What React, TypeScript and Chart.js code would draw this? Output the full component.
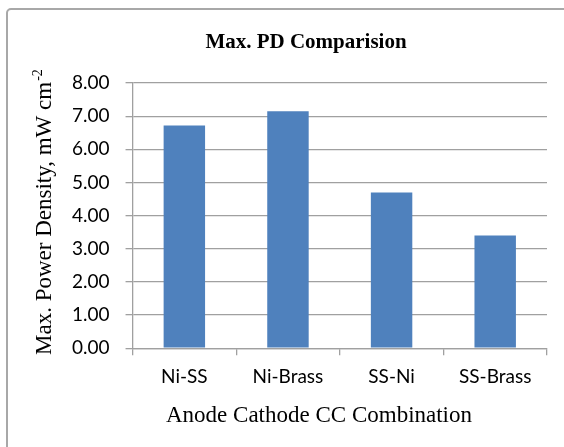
import React, { useEffect, useRef } from "react";
import { Chart, registerables } from "chart.js";

Chart.register(...registerables);

const chartTitle = "Max. PD Comparision";
const xAxisTitle = "Anode Cathode CC Combination";
const yAxisTitleMain = "Max. Power Density, mW cm";
const yAxisTitleSup = "-2";
const categories = ["Ni-SS", "Ni-Brass", "SS-Ni", "SS-Brass"];
const maxPowerDensity = [6.72, 7.15, 4.7, 3.4];
const yMin = 0;
const yMax = 8;
const yStep = 1;

const SERIF = '"Liberation Serif", "Times New Roman", serif';
const SANS = 'Lato, "Open Sans", sans-serif';

const textPlugin = {
  id: "textPlugin",
  afterDraw(chart: any) {
    const ctx = chart.ctx;
    ctx.save();
    ctx.fillStyle = "#000";
    // title
    ctx.font = `bold 21px ${SERIF}`;
    ctx.textAlign = "center";
    ctx.textBaseline = "alphabetic";
    ctx.fillText(chartTitle, 306, 48);
    // x axis title
    ctx.font = `23px ${SERIF}`;
    ctx.fillText(xAxisTitle, 319, 422);
    // y axis title rotated
    ctx.translate(51, 355);
    ctx.rotate(-Math.PI / 2);
    ctx.textAlign = "left";
    ctx.font = `23px ${SERIF}`;
    ctx.fillText(yAxisTitleMain, 0, 0);
    const w = ctx.measureText(yAxisTitleMain).width;
    ctx.font = `14px ${SERIF}`;
    ctx.fillText(yAxisTitleSup, w + 1, -9);
    ctx.restore();
  },
};

export default function App() {
  const canvasRef = useRef<HTMLCanvasElement | null>(null);

  useEffect(() => {
    const canvas = canvasRef.current;
    if (!canvas) return;
    const chart = new Chart(canvas, {
      type: "bar",
      data: {
        labels: categories,
        datasets: [
          {
            data: maxPowerDensity,
            backgroundColor: "#4F81BD",
            borderWidth: 0,
            barPercentage: 0.4,
            categoryPercentage: 1,
          },
        ],
      },
      options: {
        animation: false,
        responsive: false,
        maintainAspectRatio: false,
        layout: { padding: { left: 56, right: 17, top: 83, bottom: 49 } },
        plugins: {
          legend: { display: false },
          title: { display: false },
          tooltip: { enabled: false },
        },
        scales: {
          x: {
            grid: {
              display: true,
              drawOnChartArea: false,
              drawTicks: true,
              tickLength: 7,
              offset: true,
              color: "#a0a0a0",
              lineWidth: 1.3,
            },
            border: { display: true, color: "#a0a0a0", width: 1.3 },
            ticks: {
              color: "#000",
              padding: 10,
              font: { family: SANS, size: 19 },
            },
          },
          y: {
            min: yMin,
            max: yMax,
            grid: {
              display: true,
              drawOnChartArea: true,
              drawTicks: true,
              tickLength: 7,
              color: "#a0a0a0",
              lineWidth: 1.3,
            },
            border: { display: true, color: "#a0a0a0", width: 1.3 },
            ticks: {
              stepSize: yStep,
              color: "#000",
              padding: 16,
              font: { family: SANS, size: 19 },
              callback: (v: any) => Number(v).toFixed(2),
            },
          },
        },
      },
      plugins: [textPlugin],
    });
    return () => chart.destroy();
  }, []);

  return (
    <div
      style={{
        position: "fixed",
        left: 0,
        top: 0,
        width: 564,
        height: 447,
        overflow: "hidden",
        background: "#fff",
      }}
    >
      <div
        style={{
          position: "absolute",
          left: 6,
          top: 8,
          width: 640,
          height: 500,
          border: "2px solid #a8a8a8",
          borderRadius: 5,
          boxSizing: "border-box",
        }}
      />
      <canvas
        ref={canvasRef}
        width={564}
        height={447}
        style={{ position: "absolute", left: 0, top: 0, width: 564, height: 447 }}
      />
    </div>
  );
}
